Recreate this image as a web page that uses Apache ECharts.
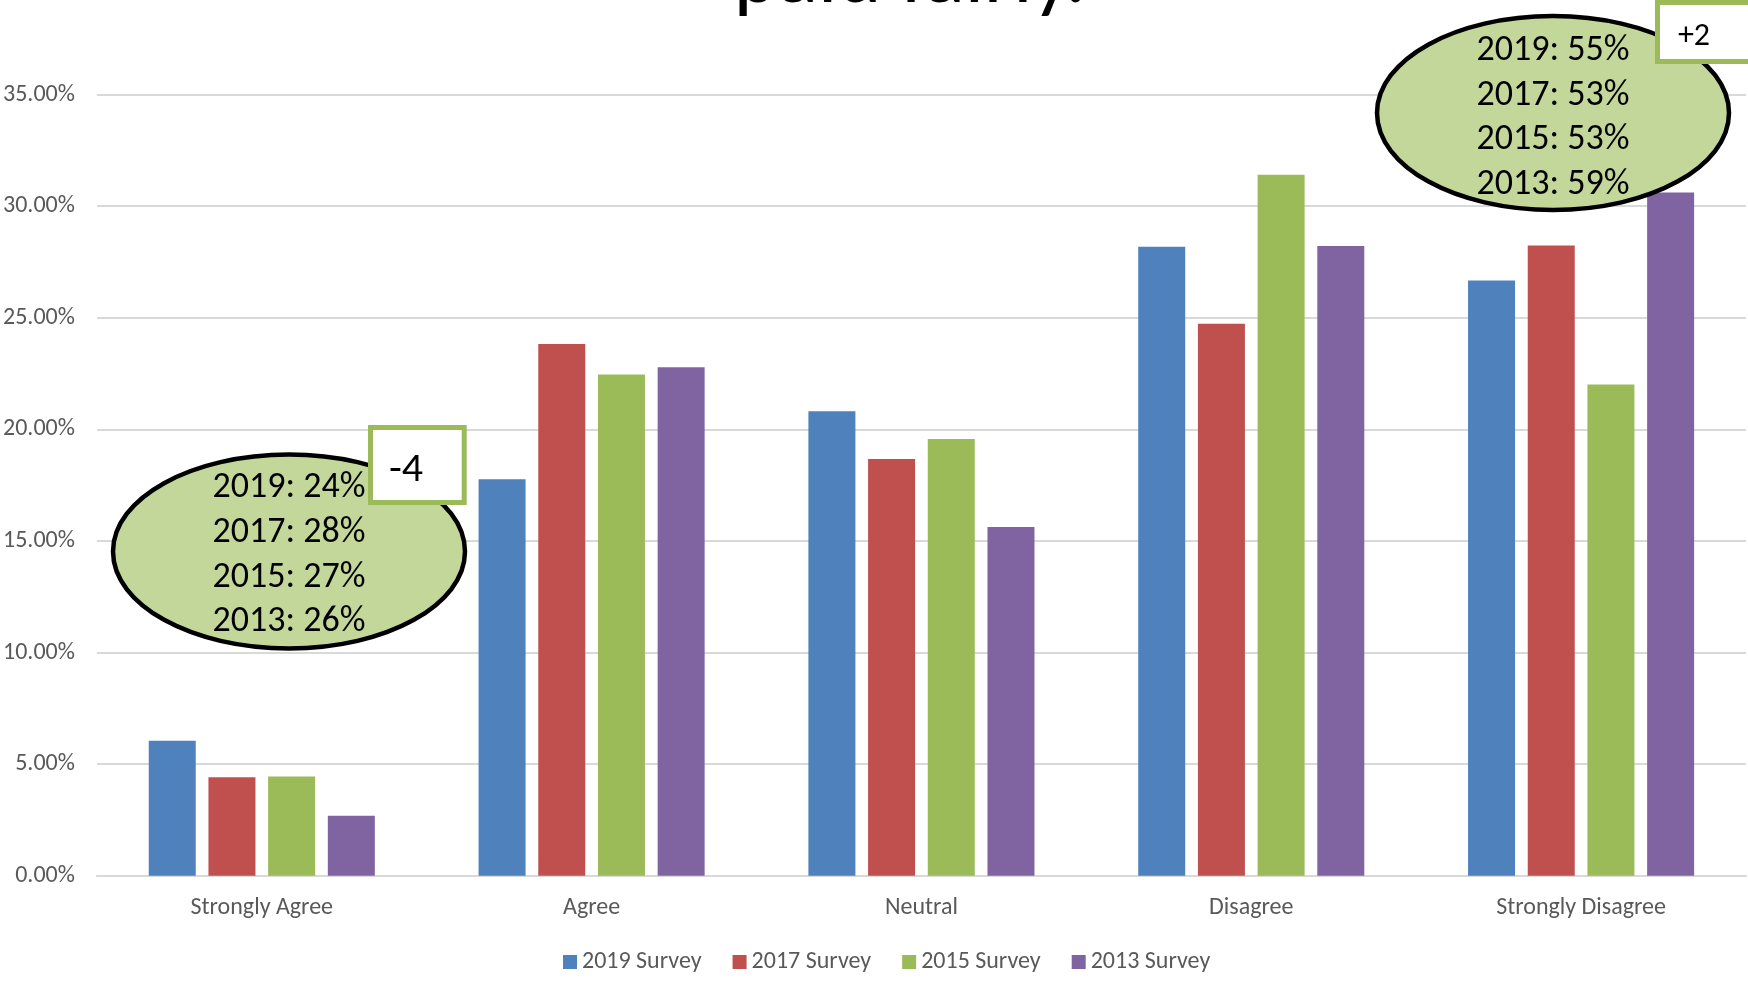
<!DOCTYPE html>
<html>
<head>
<meta charset="utf-8">
<title>Paid fairly</title>
<script src="https://cdn.jsdelivr.net/npm/echarts@6/dist/echarts.min.js"></script>
<style>
  html, body { margin: 0; padding: 0; background: #fff; }
  #chart { width: 1748px; height: 981px; }
</style>
</head>
<body>
<div id="chart"></div>
<script>
// survey answers
const categories = ['Strongly Agree', 'Agree', 'Neutral', 'Disagree', 'Strongly Disagree']
const seriesNames = ['2019 Survey', '2017 Survey', '2015 Survey', '2013 Survey']
const survey2019 = [6.05, 17.76, 20.81, 28.18, 26.67]
const survey2017 = [4.41, 23.82, 18.67, 24.73, 28.24]
const survey2015 = [4.45, 22.46, 19.57, 31.41, 22.01]
const survey2013 = [2.69, 22.78, 15.62, 28.21, 30.61]
const yTicks = [0, 5, 10, 15, 20, 25, 30, 35]

// callout texts
const agreeTotals = ['2019: 24%', '2017: 28%', '2015: 27%', '2013: 26%']
const disagreeTotals = ['2019: 55%', '2017: 53%', '2015: 53%', '2013: 59%']
const agreeChange = '-4'
const disagreeChange = '+2'
const titleText = 'paid fairly.'

const colors = ['#4f81bd', '#c0504d', '#9bbb59', '#8064a2']
const font = 'Carlito, Calibri, Lato, sans-serif'

const chart = echarts.init(document.getElementById('chart'))

const seriesData = [survey2019, survey2017, survey2015, survey2013]

// one callout = ellipse + 4 lines + change box
const callout = (cx, cy, lines, lineY, box, change, changeX, changeY, changeSize) => {
  const els = [{
    type: 'ellipse',
    shape: { cx: cx, cy: cy, rx: 176, ry: 97 },
    style: { fill: '#c4d79b', stroke: '#000', lineWidth: 4.5 },
    z: 10
  }]
  lines.forEach((txt, i) => {
    els.push({
      type: 'text',
      x: cx, y: lineY[i],
      style: { text: txt, fontSize: 36, fontFamily: font, fill: '#000', align: 'center', verticalAlign: 'middle' },
      z: 11
    })
  })
  els.push({
    type: 'rect',
    shape: box,
    style: { fill: '#fff', stroke: '#9bbb59', lineWidth: 5 },
    z: 12
  })
  els.push({
    type: 'text',
    x: changeX, y: changeY,
    style: { text: change, fontSize: changeSize, fontFamily: font, fill: '#000', align: 'center', verticalAlign: 'middle' },
    z: 13
  })
  return els
}

const option = {
  animation: false,
  color: colors,
  grid: {
    left: 96,
    right: 2,
    top: 94.5,
    bottom: 105.3,
    containLabel: false
  },
  legend: {
    data: seriesNames,
    left: 558,
    top: 945,
    itemWidth: 14,
    itemHeight: 14,
    itemGap: 31,
    icon: 'rect',
    textStyle: { fontSize: 24, color: '#595959', fontFamily: font }
  },
  xAxis: {
    type: 'category',
    data: categories,
    axisLine: { lineStyle: { color: '#d9d9d9', width: 2 } },
    axisTick: { show: false },
    axisLabel: { fontSize: 24, color: '#595959', fontFamily: font, margin: 20 }
  },
  yAxis: {
    type: 'value',
    min: yTicks[0],
    max: yTicks[yTicks.length - 1],
    interval: 5,
    axisLine: { show: false },
    axisTick: { show: false },
    axisLabel: {
      fontSize: 24,
      color: '#595959',
      fontFamily: font,
      margin: 22,
      formatter: v => v.toFixed(2) + '%'
    },
    splitLine: { lineStyle: { color: '#d9d9d9', width: 2 } }
  },
  series: seriesNames.map((name, i) => ({
    name: name,
    type: 'bar',
    data: seriesData[i],
    barWidth: 47,
    barGap: '27%',
    itemStyle: { color: colors[i] }
  })),
  graphic: [
    {
      type: 'text',
      x: 910, y: -19,
      style: { text: titleText, fontSize: 84, fontFamily: font, fill: '#000', align: 'center', verticalAlign: 'middle' },
      z: 5
    },
    ...callout(289, 551.5, agreeTotals, [488, 533, 578, 622],
      { x: 370.5, y: 427.5, width: 93.7, height: 75 }, agreeChange, 406, 470, 42),
    ...callout(1553, 113, disagreeTotals, [51, 96, 140, 185],
      { x: 1657.5, y: 2.5, width: 120, height: 59 }, disagreeChange, 1694, 37, 32)
  ]
}

chart.setOption(option)
</script>
</body>
</html>
